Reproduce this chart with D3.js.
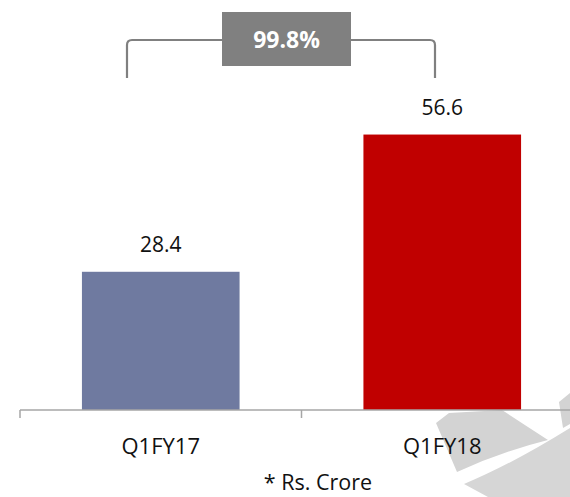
<!DOCTYPE html>
<html><head><meta charset="utf-8">
<script src="https://cdn.jsdelivr.net/npm/d3@7"></script>
<style>body{margin:0;background:#fff}svg{display:block}text{font-family:"Open Sans",Lato,sans-serif}</style>
</head><body>
<svg id="c" width="570" height="497"></svg>
<script>
const categories = ["Q1FY17", "Q1FY18"];
const values = [28.4, 56.6];
const barColors = ["#6f7aa0", "#c00000"];
const growthLabel = "99.8%";
const unitNote = "* Rs. Crore";

const svg = d3.select("#c");

// watermark (faint logo fragment)
const wm = svg.append("g");
wm.append("path").attr("d", "M436,423 L449,413 L502,410 Q525,425 548,440 Q500,452 457,472 Z").attr("fill", "#d3d3d3");
wm.append("path").attr("d", "M464,484 Q512,464 570,428 L570,497 L488,497 Z").attr("fill", "#d6d6d6");
wm.append("path").attr("d", "M559,402 L570,393 L570,424 L563,428 Z").attr("fill", "#d3d3d3");

const x = d3.scaleBand().domain(categories).range([20, 583]).paddingInner(0.44).paddingOuter(0.22);
const y = d3.scaleLinear().domain([0, 60]).range([410, 118]);

svg.selectAll("rect.bar").data(values).join("rect").attr("class", "bar")
  .attr("x", (d, i) => x(categories[i]))
  .attr("width", x.bandwidth())
  .attr("y", d => y(d))
  .attr("height", d => y(0) - y(d))
  .attr("fill", (d, i) => barColors[i]);

svg.selectAll("text.val").data(values).join("text").attr("class", "val")
  .attr("x", (d, i) => x(categories[i]) + x.bandwidth() / 2)
  .attr("y", d => y(d) - 20)
  .attr("text-anchor", "middle").attr("font-size", 21).attr("fill", "#111")
  .text(d => d.toFixed(1));

// axis
const axisG = svg.append("g").attr("transform", `translate(0,${y(0)})`);
axisG.append("line").attr("x1", 20).attr("x2", 583).attr("stroke", "#a6a6a6").attr("stroke-width", 1.5);
const bounds = [x.range()[0], x(categories[1]) - x.step() * x.paddingInner() / 2, x.range()[1]];
axisG.selectAll("line.tk").data(bounds).join("line").attr("class", "tk")
  .attr("x1", d => d).attr("x2", d => d).attr("y1", 0).attr("y2", 8)
  .attr("stroke", "#a6a6a6").attr("stroke-width", 1.5);
axisG.selectAll("text.cat").data(categories).join("text").attr("class", "cat")
  .attr("x", d => x(d) + x.bandwidth() / 2).attr("y", 43.5)
  .attr("text-anchor", "middle").attr("font-size", 22).attr("fill", "#111").text(d => d);

svg.append("text").attr("x", 318).attr("y", 490).attr("text-anchor", "middle")
  .attr("font-size", 21.5).attr("fill", "#111").text(unitNote);

// bracket
const bx1 = 127, bx2 = 435, by = 40, bb = 78, r = 5;
svg.append("path")
  .attr("d", `M${bx1},${bb} L${bx1},${by + r} Q${bx1},${by} ${bx1 + r},${by} L${bx2 - r},${by} Q${bx2},${by} ${bx2},${by + r} L${bx2},${bb}`)
  .attr("fill", "none").attr("stroke", "#808080").attr("stroke-width", 2.2);
svg.append("rect").attr("x", 222).attr("y", 12).attr("width", 129).attr("height", 54).attr("fill", "#808080");
svg.append("text").attr("x", 286.5).attr("y", 48).attr("text-anchor", "middle")
  .attr("font-size", 23).attr("font-weight", "bold").attr("fill", "#fff").text(growthLabel);
</script>
</body></html>
